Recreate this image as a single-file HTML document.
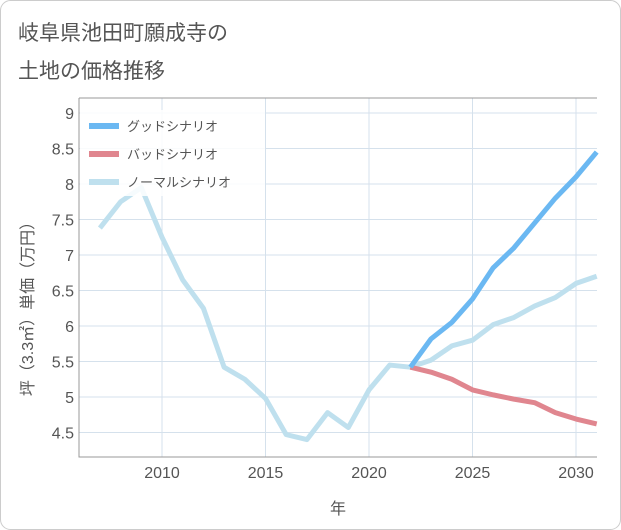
<!DOCTYPE html>
<html><head><meta charset="utf-8"><style>
body{margin:0;background:#fff;font-family:"Liberation Sans","Noto Sans CJK JP",sans-serif}
#wrap{position:relative;width:621px;height:530px;overflow:hidden}
</style></head><body>
<div id="wrap">
<svg id="c" width="621" height="530"></svg>
</div>
<script>
const years=[2007,2008,2009,2010,2011,2012,2013,2014,2015,2016,2017,2018,2019,2020,2021,2022,2023,2024,2025,2026,2027,2028,2029,2030,2031];
const normal=[7.38,7.75,7.95,7.25,6.65,6.25,5.42,5.25,4.98,4.47,4.4,4.78,4.57,5.1,5.45,5.42,5.52,5.72,5.8,6.02,6.12,6.28,6.4,6.6,6.7];
const fyears=[2022,2023,2024,2025,2026,2027,2028,2029,2030,2031];
const good=[5.42,5.82,6.05,6.38,6.82,7.1,7.45,7.8,8.1,8.45];
const bad=[5.42,5.35,5.25,5.1,5.03,4.97,4.92,4.78,4.69,4.62];
const yTicks=[4.5,5,5.5,6,6.5,7,7.5,8,8.5,9];
const xTicks=[2010,2015,2020,2025,2030];
const NS='http://www.w3.org/2000/svg';
const svg=document.getElementById('c');
const L=79,R=597,T=98,B=457;
const X=v=>162+(v-2010)*20.7;
const Y=v=>113+(9-v)*71;
function el(t,a,p){const e=document.createElementNS(NS,t);for(const k in a)e.setAttribute(k,a[k]);(p||svg).appendChild(e);return e;}
let bg=el('rect',{x:0.5,y:0.5,width:620,height:529,rx:10,fill:'#fff',stroke:'#ccc'});

let t1=el('text',{x:18,y:40,'font-size':21,fill:'#555'});t1.textContent='岐阜県池田町願成寺の';

let t2=el('text',{x:18,y:78,'font-size':21,fill:'#555'});t2.textContent='土地の価格推移';

for(const v of yTicks){const l=el('line',{x1:L,x2:R,y1:Y(v),y2:Y(v),stroke:'#d5e1ec'});

const t=el('text',{x:74,y:Y(v)+6,'font-size':16,fill:'#555','text-anchor':'end'});t.textContent=v;
}
for(const v of xTicks){const l=el('line',{x1:X(v),x2:X(v),y1:T,y2:B,stroke:'#d5e1ec'});

const t=el('text',{x:X(v),y:478,'font-size':16,fill:'#555','text-anchor':'middle'});t.textContent=v;
}
let ax=el('path',{d:`M${L} ${T}V${B}H${R}`,fill:'none',stroke:'#999'});

let tp=el('line',{x1:L,x2:R,y1:T,y2:T,stroke:'#999'});

let xt=el('text',{x:338,y:514,'font-size':16,fill:'#555','text-anchor':'middle'});xt.textContent='年';

let yt=el('text',{x:0,y:0,'font-size':16,fill:'#555','text-anchor':'middle',transform:'translate(33,305) rotate(-90)'});yt.textContent='坪（3.3㎡）単価（万円）';

function line(xs,ys,c,name){const p=el('polyline',{points:xs.map((x,i)=>X(x)+','+Y(ys[i])).join(' '),fill:'none',stroke:c,'stroke-width':5,'stroke-linejoin':'round'});
}
line(years,normal,'#bfe0ee','normal-line');
line(fyears,bad,'#e0868f','bad-line');
line(fyears,good,'#6bb8f2','good-line');
let lg=el('rect',{x:80,y:110,width:185,height:86,fill:'#fff','fill-opacity':0.85});

const ln=['グッドシナリオ','バッドシナリオ','ノーマルシナリオ'],lc=['#6bb8f2','#e0868f','#bfe0ee'];
ln.forEach((n,i)=>{const y=126+i*28;
const s=el('line',{x1:89,x2:119,y1:y,y2:y,stroke:lc[i],'stroke-width':6});

const t=el('text',{x:127,y:y+5,'font-size':13,fill:'#555'});t.textContent=n;
});
</script>
</body></html>
